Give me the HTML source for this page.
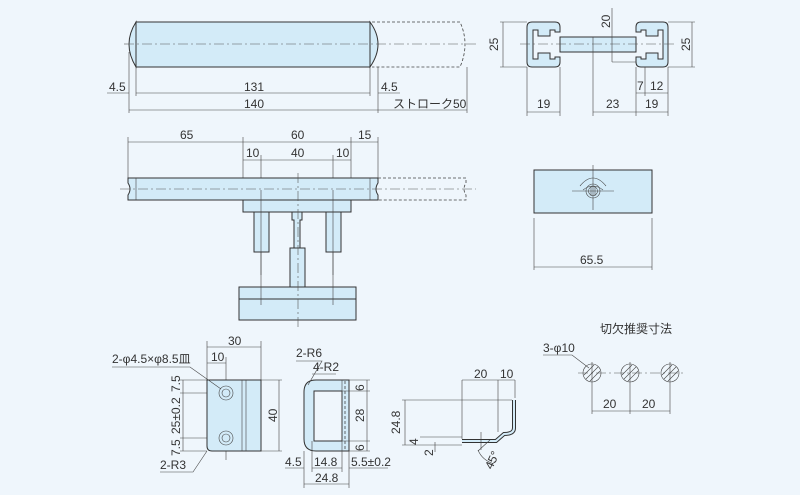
<!DOCTYPE html>
<html><head><meta charset="utf-8"><style>
html,body{margin:0;padding:0;background:#eff6fc;}
svg{display:block;}
text{font-family:"Liberation Sans","Noto Sans CJK JP",sans-serif;font-size:12px;fill:#333;}
.o{stroke:#333;stroke-width:1;fill:#d3ebf8;}
.l{stroke:#444;stroke-width:.6;fill:none;}
.c{stroke:#555;stroke-width:.6;fill:none;stroke-dasharray:10 3 2 3;}
.d{stroke:#444;stroke-width:.8;fill:none;stroke-dasharray:3 2;}
</style></head><body>
<svg width="800" height="495" viewBox="0 0 800 495" xmlns="http://www.w3.org/2000/svg">
<!-- top bar -->
<path class="o" d="M136 22 Q122 44 136 67 Z"/>
<path class="o" d="M370 22 Q386 44 370 67 Z"/>
<rect class="o" x="136" y="22" width="234" height="45"/>
<path class="d" d="M372 22 H460 Q470 44 460 67 H372"/>
<line class="c" x1="124" y1="44" x2="476" y2="44"/>
<path class="l" d="M129 52V113 M136 67V96 M370 67V96 M378 67V113 M467 67V113"/>
<path class="l" d="M107 93H129 M136 93H370 M378 93H400 M129 110H467"/>
<text x="109" y="91">4.5</text><text x="244" y="91">131</text><text x="381" y="91">4.5</text>
<text x="244" y="108">140</text><text x="393" y="108" font-size="11">ストローク50</text>

<!-- side view top right -->
<path class="o" d="M527 27 Q527 22 532 22 H555 Q560 22 560 27 V32 H555 V30 H550 V36 H538 V30 H533 V59 H538 V53 H550 V59 H555 V57 H560 V62 Q560 67 555 67 H532 Q527 67 527 62 Z"/>
<rect class="o" x="560" y="37" width="76" height="15"/>
<line class="l" x1="593" y1="37" x2="593" y2="52"/>
<path class="o" d="M636 27 Q636 22 641 22 H663 Q668 22 668 27 V62 Q668 67 663 67 H641 Q636 67 636 62 V57 H641 V59 H646 V53 H658 V59 H663 V30 H658 V36 H646 V30 H641 V32 H636 Z"/>
<line class="c" x1="520" y1="44" x2="676" y2="44"/>
<path class="l" d="M500 22H527 M500 67H527 M503 22V67 M668 22H695 M668 67H695 M692 22V67 M612 8V62 M612 37H636 M612 62H636"/>
<path class="l" d="M527 67V116 M560 67V116 M593 52V116 M636 67V116 M668 67V116 M645 67V96 M527 112H560 M593 112H668 M636 93H668"/>
<text x="498" y="51" transform="rotate(-90 498 51)">25</text>
<text x="690" y="51" transform="rotate(-90 690 51)">25</text>
<text x="610" y="28" transform="rotate(-90 610 28)">20</text>
<text x="537" y="108">19</text><text x="606" y="108">23</text><text x="645" y="108">19</text>
<text x="637" y="90">7</text><text x="650" y="90">12</text>

<!-- middle assembly -->
<path class="l" d="M128 137V178 M243 137V200 M351 137V200 M378 137V178 M128 142H378 M243 160H351"/>
<path class="l" d="M261 155V275 M333 155V275"/>
<text x="180" y="139">65</text><text x="291" y="139">60</text><text x="358" y="139">15</text>
<text x="246" y="157">10</text><text x="291" y="157">40</text><text x="336" y="157">10</text>
<path class="o" d="M128 178 H378 V183 Q374 189 378 195 V200 H128 V195 Q132 189 128 183 Z"/>
<path class="l" d="M136 178V200 M370 178V200"/>
<path class="d" d="M378 178 H466 V183 Q462 189 466 195 V200 H378"/>
<line class="c" x1="120" y1="189" x2="476" y2="189"/>
<rect class="o" x="243" y="200" width="108" height="12"/>
<rect class="o" x="254" y="212" width="15" height="40"/>
<rect class="o" x="326" y="212" width="15" height="40"/>
<path class="o" d="M292 212 H302 V220 H300 V248 H294 V220 H292 Z"/>
<rect class="o" x="290" y="248" width="15" height="39"/>
<rect class="o" x="239" y="287" width="117" height="12"/>
<rect class="o" x="239" y="299" width="117" height="21"/>
<path class="l" d="M261 190V305 M333 190V305"/>
<line class="c" x1="298" y1="173" x2="298" y2="328"/>

<!-- right middle -->
<rect class="o" x="534" y="170" width="118" height="43"/>
<path class="l" d="M580 186 Q593 170 606 186 M583 190 Q593 182 603 190"/>
<circle class="l" cx="593" cy="191" r="7"/><circle class="l" cx="593" cy="191" r="4.5"/>
<path class="l" d="M591 186V196 M595 186V196 M572 191H614 M593 165V210"/>
<path class="l" d="M534 218V270 M652 218V270 M534 267H652"/>
<text x="580" y="264">65.5</text>

<!-- left bottom plate -->
<path class="l" d="M207 341V380 M261 341V380 M207 347H261 M226 357V460 M207 363H226 M180 380H207 M180 393H226 M180 438H226 M180 451H207 M183 380V451 M261 380H282 M261 451H282 M279 380V451"/>
<text x="228" y="345">30</text><text x="211" y="361">10</text>
<path class="o" d="M207 380 H261 V451 H212 Q207 451 207 446 Z"/>
<path class="l" d="M242 380V451 M246 380V451"/>
<circle class="l" cx="226" cy="393" r="7"/><circle class="l" cx="226" cy="393" r="4"/>
<circle class="l" cx="226" cy="438" r="7"/><circle class="l" cx="226" cy="438" r="4"/>
<path class="l" d="M112 367H190 L221 389 M160 472H193 L207 451"/>
<text x="112" y="363">2-φ4.5×φ8.5皿</text><text x="160" y="469">2-R3</text>
<text x="180" y="392" transform="rotate(-90 180 392)">7.5</text>
<text x="180" y="434" transform="rotate(-90 180 434)">25±0.2</text>
<text x="180" y="456" transform="rotate(-90 180 456)">7.5</text>
<text x="277" y="422" transform="rotate(-90 277 422)">40</text>

<!-- U shape -->
<path class="o" d="M316 380 H349 V451 H316 Q304 451 304 439 V392 Q304 380 316 380 Z M314 391 V441 H342 V391 Z"/>
<path class="l" d="M342 380V451" /><path class="d" d="M345 381V450"/>
<path class="l" d="M342 391H370 M342 441H370 M349 380H370 M349 451H370 M367 380V451 M304 451V488 M312 441V472 M342 451V472 M349 451V488 M285 468H304 M312 468H342 M349 468H388 M304 484H349"/>
<path class="l" d="M296 361H322 L308 385 M312 374H336"/>
<text x="296" y="357">2-R6</text><text x="313" y="371">4-R2</text>
<text x="364" y="391" transform="rotate(-90 364 391)">6</text>
<text x="364" y="422" transform="rotate(-90 364 422)">28</text>
<text x="364" y="451" transform="rotate(-90 364 451)">6</text>
<text x="285" y="466">4.5</text><text x="314" y="466">14.8</text><text x="351" y="466">5.5±0.2</text>
<text x="315" y="482">24.8</text>

<!-- L bracket (thin sheet) -->
<path d="M462 441 H496 L504 434 Q514 434 514 428 V400" fill="none" stroke="#333" stroke-width="4"/>
<path d="M462 441 H496 L504 434 Q514 434 514 428 V400" fill="none" stroke="#d3ebf8" stroke-width="2"/>
<path class="l" d="M462 380V439 M498 380V432 M515 380V398 M462 380H515 M402 400H512 M402 445H462 M420 437H462 M435 442V452 M405 400V445 M481 432V450"/>
<path class="l" d="M478 450 Q482 460 494 464 M478 451 L490 440"/>
<text x="474" y="378">20</text><text x="500" y="378">10</text>
<text x="400" y="434" transform="rotate(-90 400 434)">24.8</text>
<text x="418" y="445" transform="rotate(-90 418 445)" font-size="10">4</text>
<text x="433" y="456" transform="rotate(-90 433 456)" font-size="10">2</text>
<text x="492" y="470" transform="rotate(-65 492 470)" font-size="11">45°</text>

<!-- recommended cutout -->
<text x="600" y="333">切欠推奨寸法</text>
<path class="l" d="M543 355H572 L589 368"/>
<text x="543" y="352">3-φ10</text>
<line class="c" x1="578" y1="373" x2="686" y2="373"/>
<g class="l">
<circle cx="592" cy="373" r="9"/><circle cx="630" cy="373" r="9"/><circle cx="670" cy="373" r="9"/>
<path d="M586 379L598 367 M590 381L600 371 M584 375L594 365 M624 379L636 367 M628 381L638 371 M622 375L632 365 M664 379L676 367 M668 381L678 371 M662 375L672 365"/>
<path d="M592 362V414 M630 362V414 M670 362V414 M592 411H670"/>
</g>
<text x="603" y="408">20</text><text x="642" y="408">20</text>
</svg>
</body></html>
